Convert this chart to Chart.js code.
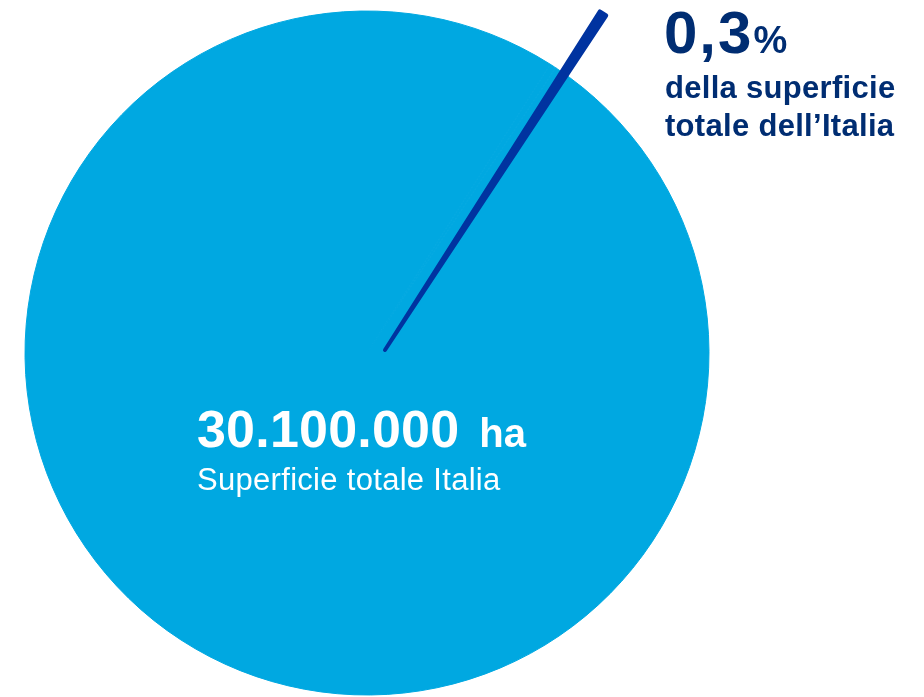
<!DOCTYPE html>
<html>
<head>
<meta charset="utf-8">
<script src="https://cdn.jsdelivr.net/npm/chart.js@4/dist/chart.umd.min.js"></script>
<style>
  body { margin: 0; background: #fff; width: 924px; height: 697px; overflow: hidden; position: relative;
         font-family: "Liberation Sans", Arial, sans-serif; }
  canvas { position: absolute; }
  #pieBase { left: 24px; top: 10px; }
  #pieSlice { left: -35px; top: -70px; }
  .txt { position: absolute; white-space: nowrap; z-index: 5; }
  #total { left: 197px; top: 403px; color: #fff; font-weight: bold; font-size: 52px; line-height: 52px; letter-spacing: 0.2px; }
  #total span { font-size: 40px; margin-left: 20px; letter-spacing: 0; }
  #totalLbl { left: 197px; top: 464px; color: #fff; font-size: 31px; line-height: 31px; letter-spacing: 0.3px; }
  #share { left: 664px; top: 3px; color: #002d72; font-weight: bold; font-size: 60px; line-height: 60px; letter-spacing: 2px; }
  #share span { font-size: 38px; letter-spacing: 0; }
  #shareLbl { left: 665px; top: 69px; color: #002d72; font-weight: bold; font-size: 31px; line-height: 38px; letter-spacing: 0.3px; }
</style>
</head>
<body>
<canvas id="pieBase" width="686" height="686"></canvas>
<canvas id="pieSlice" width="840" height="840"></canvas>
<div class="txt" id="total"></div>
<div class="txt" id="totalLbl"></div>
<div class="txt" id="share"></div>
<div class="txt" id="shareLbl"></div>
<script>
// dati
const categories = ["0,3% della superficie totale dell’Italia", "Resto della superficie"];
const shares = [0.3, 99.7];           // % della superficie
const totalHa = ["30.100.000", "ha"];
const totalLabel = "Superficie totale Italia";
const shareLabel = ["della superficie", "totale dell’Italia"];

const lightBlue = "#00a8e1";
const darkBlue = "#0033a0";

document.getElementById("total").innerHTML = totalHa[0] + "<span>" + totalHa[1] + "</span>";
document.getElementById("totalLbl").textContent = totalLabel;
document.getElementById("share").innerHTML = String(shares[0]).replace(".", ",") + "<span>%</span>";
document.getElementById("shareLbl").innerHTML = shareLabel.join("<br>");

const common = {
    responsive: false,
    animation: false,
    events: [],
    rotation: 32.4,
    layout: { padding: 0 },
    plugins: { legend: { display: false }, tooltip: { enabled: false } },
};

// cerchio intero
new Chart(document.getElementById("pieBase"), {
    type: "pie",
    data: {
        labels: categories,
        datasets: [{
            data: shares,
            backgroundColor: [lightBlue, lightBlue],
            borderColor: lightBlue,
            borderWidth: 1,
        }],
    },
    options: { ...common, radius: 342 },
});

// spicchio 0,3% che esce dal cerchio
new Chart(document.getElementById("pieSlice"), {
    type: "pie",
    data: {
        labels: categories,
        datasets: [{
            data: shares,
            backgroundColor: [darkBlue, "rgba(0,0,0,0)"],
            borderColor: [darkBlue, "rgba(0,0,0,0)"],
            borderWidth: [4, 0],
            borderJoinStyle: "round",
        }],
    },
    options: { ...common, radius: 401 },
});
</script>
</body>
</html>
